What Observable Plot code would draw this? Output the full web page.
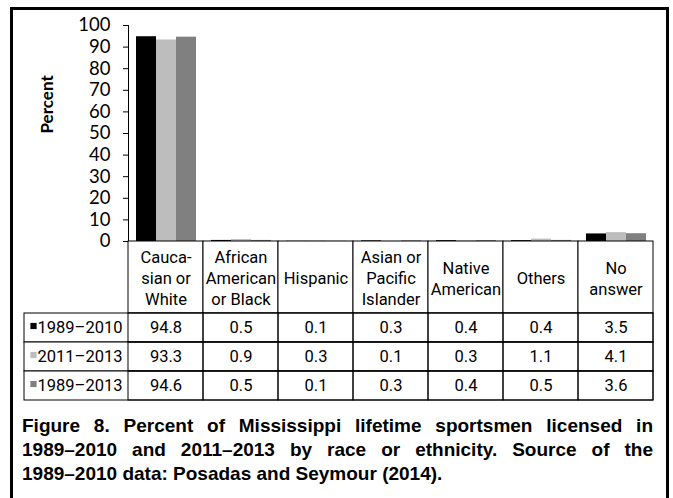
<!DOCTYPE html>
<html>
<head>
<meta charset="utf-8">
<script src="https://cdn.jsdelivr.net/npm/d3@7"></script>
<script src="https://cdn.jsdelivr.net/npm/@observablehq/plot@0.6"></script>
<style>
  html, body { margin: 0; padding: 0; background: #fff; }
  body { position: relative; width: 673px; height: 498px; overflow: hidden; }
  #box { position: absolute; left: 10px; top: 7px; width: 653px; height: 520px; border: 3px solid #000; border-bottom: none; }
  .layer { position: absolute; left: 0; }
  #caption { position: absolute; left: 22px; top: 414px; width: 631px;
    font: bold 19px "Liberation Sans", Arial, sans-serif; line-height: 24px; color: #000; }
  #caption div { text-align: justify; text-align-last: justify; white-space: nowrap; }
  #caption div.last { text-align-last: left; }
</style>
</head>
<body>
<div id="box"></div>
<div id="chart" class="layer" style="top:0px"></div>
<div id="head" class="layer" style="top:240px"></div>
<div id="rows" class="layer" style="top:312px"></div>
<div id="caption">
  <div>Figure 8. Percent of Mississippi lifetime sportsmen licensed in</div>
  <div>1989–2010 and 2011–2013 by race or ethnicity. Source of the</div>
  <div class="last">1989–2010 data: Posadas and Seymour (2014).</div>
</div>
<script>
// Race / ethnicity categories and their column headings
const categories = ["Caucasian or White", "African American or Black", "Hispanic",
  "Asian or Pacific Islander", "Native American", "Others", "No answer"];
const headerLabels = ["Cauca-\nsian or\nWhite", "African\nAmerican\nor Black", "Hispanic",
  "Asian or\nPacific\nIslander", "Native\nAmerican", "Others", "No\nanswer"];

// License periods (series)
const series = ["1989–2010", "2011–2013", "1989–2013"];
const seriesColors = ["#000000", "#bdbdbd", "#808080"];

// Percent of sportsmen per category, one array per period
const pct1989to2010 = [94.8, 0.5, 0.1, 0.3, 0.4, 0.4, 3.5];
const pct2011to2013 = [93.3, 0.9, 0.3, 0.1, 0.3, 1.1, 4.1];
const pct1989to2013 = [94.6, 0.5, 0.1, 0.3, 0.4, 0.5, 3.6];

// Y axis ticks
const yTicks = [0, 10, 20, 30, 40, 50, 60, 70, 80, 90, 100];

const valuesBySeries = [pct1989to2010, pct2011to2013, pct1989to2013];
const rows = series.flatMap((s, i) =>
  categories.map((c, j) => ({series: s, category: c, value: valuesBySeries[i][j]})));

const tableFont = 'Roboto, "Liberation Sans", sans-serif';
const svgStyle = {background: "transparent", overflow: "visible"};

// Grouped bar chart
const chart = Plot.plot({
  width: 673, height: 242,
  marginLeft: 128, marginRight: 20, marginTop: 25, marginBottom: 1,
  style: {...svgStyle, fontFamily: "Lato, sans-serif", fontSize: "18.5px", color: "#000"},
  fx: {domain: categories, padding: 0, axis: null},
  x: {domain: series, paddingInner: 0, paddingOuter: 0.34, axis: null},
  y: {domain: [0, 100], ticks: yTicks, tickSize: 5, line: true, label: null},
  color: {domain: series, range: seriesColors},
  marks: [
    Plot.barY(rows, {fx: "category", x: "series", y: "value", fill: "series"}),
    Plot.text(["Percent"], {fx: () => categories[0], frameAnchor: "left", dx: -81, rotate: -90,
      fontWeight: "bold", fontSize: 17, fill: "#000"})
  ]
});
// leave a wider gap between the tick labels and the tick marks
chart.querySelectorAll('[aria-label^="y-axis"] text').forEach(t => t.setAttribute("dx", "-9"));
document.getElementById("chart").append(chart);

// Table header row with category names
const head = Plot.plot({
  width: 673, height: 74,
  marginLeft: 128, marginRight: 20, marginTop: 1, marginBottom: 1,
  style: {...svgStyle, fontFamily: tableFont, fontSize: "16.5px"},
  x: {domain: categories, padding: 0, axis: null},
  marks: [
    Plot.cell(categories, {x: d => d, fill: "white", stroke: "black"}),
    Plot.text(categories, {x: d => d, text: (d, i) => headerLabels[i], lineHeight: 1.28, fill: "#000"})
  ]
});
document.getElementById("head").append(head);

// Table body: one row per period, with a legend swatch in the label column
const table = Plot.plot({
  width: 673, height: 89,
  marginLeft: 128, marginRight: 20, marginTop: 1, marginBottom: 1,
  style: {...svgStyle, fontFamily: tableFont, fontSize: "16.5px"},
  x: {domain: categories, padding: 0, axis: null},
  y: {domain: series, padding: 0, axis: null},
  color: {domain: series, range: seriesColors},
  marks: [
    Plot.cell(series, {y: d => d, fill: "white", stroke: "black", insetLeft: -104}),
    Plot.cell(rows, {x: "category", y: "series", fill: "none", stroke: "black"}),
    Plot.text(rows, {x: "category", y: "series", text: d => d.value.toFixed(1), fill: "#000"}),
    Plot.dot(series, {y: d => d, frameAnchor: "left", dx: -95, dy: -2, symbol: "square", r: 3.5, fill: d => d, stroke: null}),
    Plot.text(series, {y: d => d, frameAnchor: "left", dx: -91, textAnchor: "start", fill: "#000"})
  ]
});
document.getElementById("rows").append(table);
</script>
</body>
</html>
